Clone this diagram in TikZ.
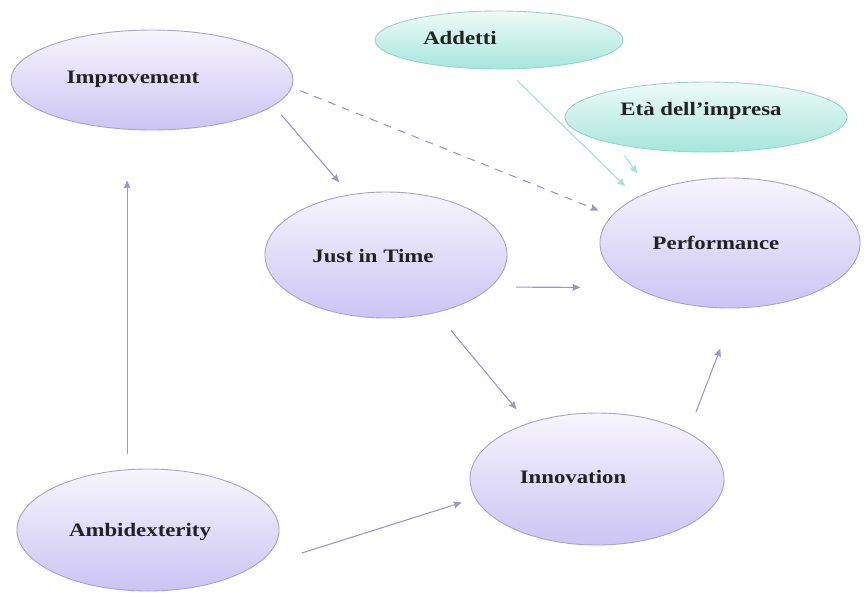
\documentclass[tikz,border=0pt]{standalone}
\usepackage{fontspec}
\setmainfont{Liberation Serif}
\newfontfamily\lblfont[FakeStretch=1.2]{Liberation Serif}
\usetikzlibrary{shapes.geometric,arrows.meta}

\definecolor{lavtop}{HTML}{F7F5FD}
\definecolor{lavbot}{HTML}{CCC4F3}
\definecolor{lavline}{HTML}{A8A3CC}
\definecolor{tealtop}{HTML}{EEFBF8}
\definecolor{tealbot}{HTML}{A6E6DB}
\definecolor{tealline}{HTML}{9CD3C9}
\definecolor{arrowcol}{HTML}{9C98CF}
\definecolor{tealarrow}{HTML}{A4E2D8}
\definecolor{ink}{HTML}{222222}

\tikzset{
  bubble/.style={ellipse, draw=lavline, line width=0.9pt, inner sep=0pt,
    top color=lavtop, bottom color=lavbot},
  tealbubble/.style={ellipse, draw=tealline, line width=0.9pt, inner sep=0pt,
    top color=tealtop, bottom color=tealbot},
  caption/.style={font=\lblfont\bfseries\fontsize{19}{22}\selectfont, text=ink, inner sep=0pt},
  link/.style={draw=arrowcol, line width=1.1pt,
    -{Stealth[length=8pt,width=7pt,inset=1pt]}},
  tlink/.style={draw=tealarrow, line width=1.1pt,
    -{Stealth[length=8pt,width=7pt,inset=1pt]}},
}

\begin{document}
\begin{tikzpicture}[x=1pt,y=-1pt]
  \useasboundingbox[fill=white] (0,0) rectangle (864,592);

  % ellipses
  \node[bubble, minimum width=282pt, minimum height=100pt] (imp) at (152,80) {};
  \node[tealbubble, minimum width=248pt, minimum height=58pt] (add) at (499,40) {};
  \node[tealbubble, minimum width=282pt, minimum height=70pt] (eta) at (706,117) {};
  \node[bubble, minimum width=260pt, minimum height=130pt] (perf) at (730,243) {};
  \node[bubble, minimum width=242pt, minimum height=126pt] (jit) at (386,255) {};
  \node[bubble, minimum width=254pt, minimum height=132pt] (inn) at (597,479) {};
  \node[bubble, minimum width=262pt, minimum height=122pt] (amb) at (148,530) {};

  % captions
  \node[caption] (imp-t)  at (133,79)  {Improvement};
  \node[caption] (add-t)  at (460,38)  {Addetti};
  \node[caption] (eta-t)  at (701,111) {Età dell’impresa};
  \node[caption] (perf-t) at (716,243) {Performance};
  \node[caption] (jit-t)  at (373,256) {Just in Time};
  \node[caption] (inn-t)  at (573,477) {Innovation};
  \node[caption] (amb-t)  at (140,532) {Ambidexterity};

  % connectors
  \draw[link, shorten <=15pt, shorten >=50pt] (amb.109) -- (amb.109 |- imp.south);
  \draw[link, shorten <=12pt, shorten >=16pt] (imp.-12) -- (jit.121);
  \draw[link, dashed, dash pattern=on 8pt off 7pt, shorten <=9pt, shorten >=14pt] (imp.-3) -- (perf.167);
  \draw[tlink, shorten <=16pt, shorten >=16pt] (add.-77) -- (perf.154);
  \draw[tlink, shorten <=14pt, shorten >=22pt] (eta.197) -- (perf.147);
  \draw[link, shorten <=25pt, shorten >=54pt] (jit.-17) -- (perf.205);
  \draw[link, shorten <=23pt, shorten >=18pt] (jit.-49) -- (inn.141);
  \draw[link, shorten <=22pt, shorten >=43pt] (inn.27) -- (perf.-85);
  \draw[link, shorten <=57pt, shorten >=14pt] (amb.-22) -- (inn.189);
\end{tikzpicture}
\end{document}
